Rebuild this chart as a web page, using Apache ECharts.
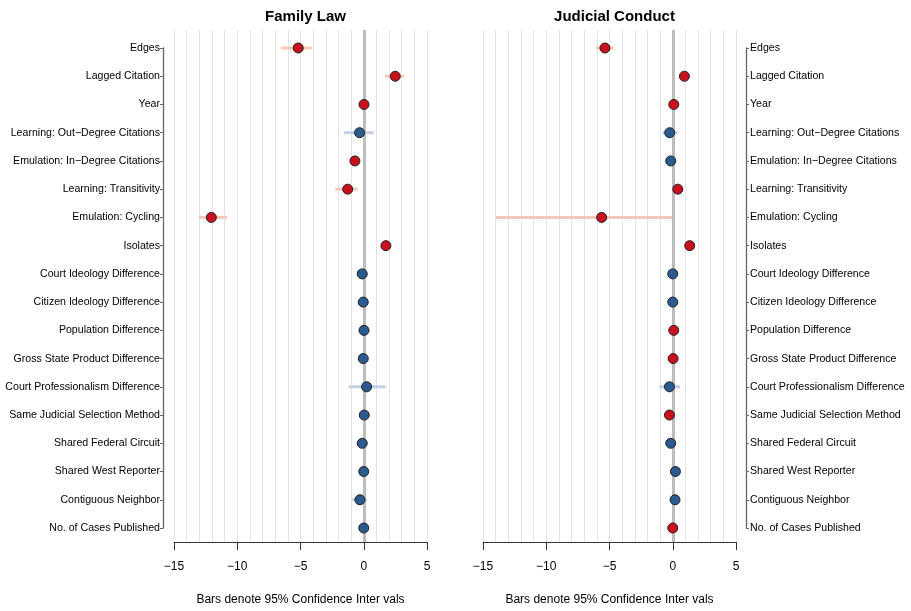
<!DOCTYPE html>
<html><head><meta charset="utf-8">
<script src="https://cdn.jsdelivr.net/npm/echarts@6/dist/echarts.min.js"></script>
<style>html,body{margin:0;padding:0;background:#fff}#c{width:911px;height:611px}</style>
</head><body><div id="c"></div>
<script>
const categories = ['Edges','Lagged Citation','Year','Learning: Out\u2212Degree Citations','Emulation: In\u2212Degree Citations','Learning: Transitivity','Emulation: Cycling','Isolates','Court Ideology Difference','Citizen Ideology Difference','Population Difference','Gross State Product Difference','Court Professionalism Difference','Same Judicial Selection Method','Shared Federal Circuit','Shared West Reporter','Contiguous Neighbor','No. of Cases Published'];
const panelTitles = ['Family Law','Judicial Conduct'];
const xTicks = [-15,-10,-5,0,5];
const axisName = 'Bars denote 95% Confidence Inter vals';

// Family Law
const famEst = [-5.18, 2.49, 0.02, -0.33, -0.70, -1.27, -12.05, 1.75, -0.12, -0.04, 0.02, -0.04, 0.23, 0.04, -0.12, 0.00, -0.30, 0.00];
const famLo  = [-6.55, 1.70, -0.15, -1.57, -0.95, -2.25, -13.03, 1.55, -0.30, -0.20, -0.15, -0.20, -1.19, -0.15, -0.30, -0.25, -0.90, -0.20];
const famHi  = [-4.13, 3.18, 0.20, 0.78, -0.45, -0.48, -10.81, 1.95, 0.05, 0.12, 0.20, 0.12, 1.73, 0.22, 0.05, 0.25, 0.25, 0.20];
const famSig = [1,1,1,0,1,1,1,1,0,0,0,0,0,0,0,0,0,0];

// Judicial Conduct
const judEst = [-5.36, 0.92, 0.08, -0.24, -0.16, 0.40, -5.62, 1.34, 0.00, 0.00, 0.08, 0.03, -0.26, -0.26, -0.16, 0.21, 0.18, 0.00];
const judLo  = [-6.07, 0.75, -0.05, -0.82, -0.35, 0.20, -13.99, 1.15, -0.15, -0.15, -0.08, -0.12, -1.06, -0.45, -0.35, 0.05, 0.00, -0.15];
const judHi  = [-4.67, 1.10, 0.20, 0.34, 0.02, 0.60, -0.06, 1.52, 0.15, 0.15, 0.22, 0.18, 0.58, -0.08, 0.02, 0.38, 0.35, 0.15];
const judSig = [1,1,1,0,0,1,1,1,0,0,1,1,0,1,0,0,0,1];

const RED = '#c8101e', BLUE = '#2b5a8e';
const RED_CI = '#f2c9b9', BLUE_CI = '#c3cfe2';
const FONT = "'Liberation Sans', Arial, sans-serif";

const chart = echarts.init(document.getElementById('c'));

const panels = [
  {est: famEst, lo: famLo, hi: famHi, sig: famSig, left: 174, side: 'left', offset: 11},
  {est: judEst, lo: judLo, hi: judHi, sig: judSig, left: 483, side: 'right', offset: 10}
];
const W = 253;

const grid = [], xAxis = [], yAxis = [], series = [], title = [];
panels.forEach((p, i) => {
  grid.push({left: p.left, width: W, top: 30, height: 516});
  grid.push({left: p.left, width: W, top: 48, height: 480});
  const gP = 2*i, gL = 2*i+1;
  xAxis.push({
    gridIndex: gP, type: 'value', min: -15, max: 5, interval: 5,
    name: axisName, nameLocation: 'middle', nameGap: 52,
    nameTextStyle: {fontFamily: FONT, fontSize: 12, color: '#000'},
    axisLine: {show: true, onZero: false, lineStyle: {color: '#333', width: 1}},
    axisTick: {show: true, length: 8, lineStyle: {color: '#333'}},
    axisLabel: {fontFamily: FONT, fontSize: 12, color: '#000', margin: 19,
      formatter: v => (xTicks.includes(v) ? String(v).replace('-', '\u2212') : '')},
    splitLine: {show: true, lineStyle: {color: '#e4e4e4', width: 1}},
    minorTick: {show: false, splitNumber: 5},
    minorSplitLine: {show: true, lineStyle: {color: '#e4e4e4', width: 1}}
  });
  yAxis.push({gridIndex: gP, type: 'value', min: 0, max: 1, show: false});
  xAxis.push({gridIndex: gL, type: 'value', min: -15, max: 5, show: false});
  yAxis.push({
    gridIndex: gL, type: 'value', inverse: true, min: 1, max: 18, interval: 1,
    position: p.side, offset: p.offset,
    axisLine: {show: true, onZero: false, lineStyle: {color: '#666', width: 1.3}},
    axisTick: {show: true, length: 3, lineStyle: {color: '#666'}},
    axisLabel: {fontFamily: FONT, fontSize: 10.6, color: '#000', margin: p.side === 'left' ? 3 : 4,
      formatter: v => categories[Math.round(v) - 1] || ''},
    splitLine: {show: false}
  });
  series.push({
    type: 'scatter', xAxisIndex: gP, yAxisIndex: gP, data: [], silent: true,
    markLine: {symbol: 'none', silent: true, label: {show: false},
      lineStyle: {color: '#bdbdbd', width: 3, type: 'solid'},
      data: [{xAxis: 0}]}
  });
  series.push({
    type: 'custom', xAxisIndex: gL, yAxisIndex: gL, z: 3,
    data: p.est.map((e, k) => [p.lo[k], p.hi[k], k + 1, p.sig[k]]),
    renderItem: (params, api) => {
      const a = api.coord([api.value(0), api.value(2)]);
      const b = api.coord([api.value(1), api.value(2)]);
      return {type: 'line', shape: {x1: a[0], y1: a[1], x2: b[0], y2: b[1]},
        style: {stroke: api.value(3) ? RED_CI : BLUE_CI, lineWidth: 3}};
    }
  });
  series.push({
    type: 'scatter', xAxisIndex: gL, yAxisIndex: gL, z: 5, symbolSize: 10,
    data: p.est.map((e, k) => ({value: [e, k + 1],
      itemStyle: {color: p.sig[k] ? RED : BLUE, borderColor: '#222', borderWidth: 1, opacity: 1}}))
  });
  title.push({text: panelTitles[i], left: p.left + W/2, top: 4, textAlign: 'center',
    textStyle: {fontFamily: FONT, fontSize: 15, fontWeight: 'bold', color: '#000'}});
});

chart.setOption({animation: false, backgroundColor: '#fff', title, grid, xAxis, yAxis, series});
</script></body></html>
